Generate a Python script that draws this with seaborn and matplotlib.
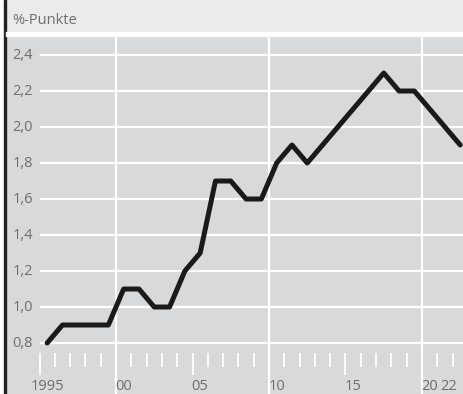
import seaborn as sns
import matplotlib.pyplot as plt
import pandas as pd

sns.set_theme(style="white")
plt.rcParams['font.family'] = ['Open Sans', 'DejaVu Sans']

years = list(range(1995, 2023))
values = [0.8, 0.9, 0.9, 0.9, 0.9, 1.1, 1.1, 1.0, 1.0, 1.2, 1.3, 1.7, 1.7, 1.6,
          1.6, 1.8, 1.9, 1.8, 1.9, 2.0, 2.1, 2.2, 2.3, 2.2, 2.2, 2.1, 2.0, 1.9]
yticks = [0.8, 1.0, 1.2, 1.4, 1.6, 1.8, 2.0, 2.2, 2.4]
ytick_labels = ["0,8", "1,0", "1,2", "1,4", "1,6", "1,8", "2,0", "2,2", "2,4"]
xlabel_years = [1995, 2000, 2005, 2010, 2015, 2020, 2022]
xlabel_texts = ["1995", "00", "05", "10", "15", "20", "22"]
grid_years = [2000, 2010, 2020]
unit = "%-Punkte"

# values are plotted in the middle of each year
df = pd.DataFrame({"x": [y + 0.5 for y in years], "v": values})

W, H = 463, 394
fig = plt.figure(figsize=(W / 100, H / 100), dpi=100)
fig.patch.set_facecolor("#ebebeb")
# white strip left of the frame and below the header
fig.patches.append(plt.Rectangle((0, 0), 4 / W, 1, transform=fig.transFigure,
                                 color="white", zorder=0))
fig.patches.append(plt.Rectangle((4 / W, 0), 1.6 / W, 1, transform=fig.transFigure,
                                 color="#222222", zorder=0))
fig.patches.append(plt.Rectangle((5.6 / W, (H - 36) / H), 1, 4 / H,
                                 transform=fig.transFigure, color="white", zorder=0))
txt_color = "#6e6e6e"
fig.text(12 / W, 1 - 20 / H, unit, fontsize=10.5, color=txt_color, va="center", ha="left")

ax = fig.add_axes([6 / W, 0, (W - 6) / W, (H - 36) / H])
ax.set_facecolor("#d8d9db")
for s in ax.spines.values():
    s.set_visible(False)

xmin, xmax = 1992.81, 2022.68
ymin, ymax = 0.5167, 2.5056
ax.set_xlim(xmin, xmax)
ax.set_ylim(ymin, ymax)
ax.set_xticks([])
ax.set_yticks([])

ax.hlines(yticks, 1995, xmax, color="white", lw=1.6, zorder=1)
for g in grid_years:
    ax.axvline(g, color="white", lw=1.6, zorder=1)

# year tick marks
for y in range(1995, 2023):
    low = 0.622 if y % 10 == 5 else 0.667
    ax.vlines(y, low, 0.744, color="white", lw=1.3, zorder=1)

for t, lab in zip(yticks, ytick_labels):
    ax.text(1993.25, t, lab, fontsize=10.5, color=txt_color, va="center", ha="left")
for yr, lab in zip(xlabel_years, xlabel_texts):
    ha = "right" if yr == 2022 else "center"
    pos = yr + 0.3 if yr == 2022 else yr + 0.5
    ax.text(pos, 0.556, lab, fontsize=10.5, color=txt_color, va="center", ha=ha)

sns.lineplot(data=df, x="x", y="v", ax=ax, color="#1a1a1a", lw=3.6, zorder=3)
ax.set_xlabel("")
ax.set_ylabel("")

fig.savefig("out.png", dpi=100)
